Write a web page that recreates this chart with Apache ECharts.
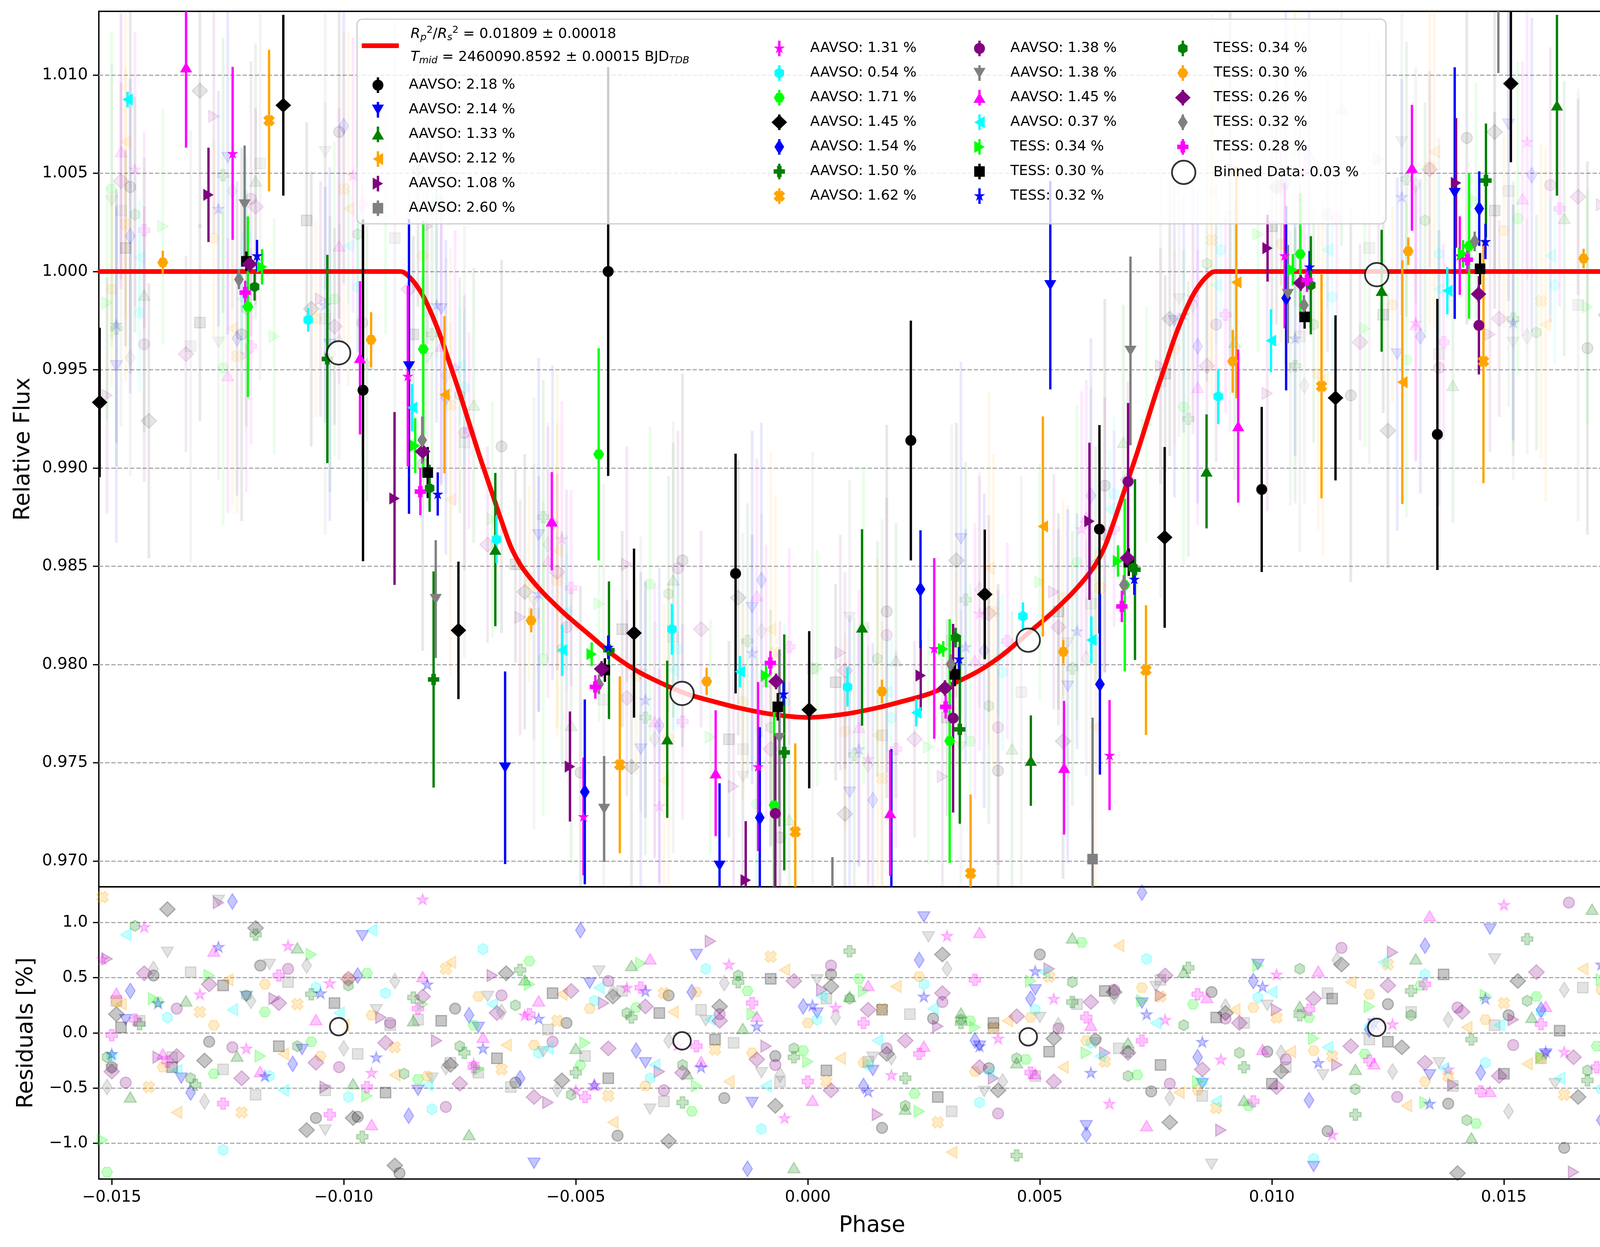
<!DOCTYPE html>
<html><head><meta charset="utf-8">
<script src="https://cdn.jsdelivr.net/npm/echarts@6/dist/echarts.min.js"></script>
<style>html,body{margin:0;padding:0;background:#fff}#c{width:4242px;height:3192px}</style>
</head><body><div id="c"></div>
<script>
// ---------------- DATA ----------------
const seriesLabels = ['AAVSO: 2.18 %','AAVSO: 2.14 %','AAVSO: 1.33 %','AAVSO: 2.12 %','AAVSO: 1.08 %','AAVSO: 2.60 %',
  'AAVSO: 1.31 %','AAVSO: 0.54 %','AAVSO: 1.71 %','AAVSO: 1.45 %','AAVSO: 1.54 %','AAVSO: 1.50 %','AAVSO: 1.62 %',
  'AAVSO: 1.38 %','AAVSO: 1.38 %','AAVSO: 1.45 %','AAVSO: 0.37 %','TESS: 0.34 %','TESS: 0.30 %','TESS: 0.32 %',
  'TESS: 0.34 %','TESS: 0.30 %','TESS: 0.26 %','TESS: 0.32 %','TESS: 0.28 %'];
const binnedLabel = 'Binned Data: 0.03 %';
const seriesColors = ['black','blue','green','orange','purple','gray','magenta','cyan','lime'];
const seriesMarkers = ['o','v','^','<','>','s','*','h','H','D','d','P','X'];

const phaseTicks = [-0.015,-0.010,-0.005,0,0.005,0.010,0.015];
const fluxTicks = [0.970,0.975,0.980,0.985,0.990,0.995,1.000,1.005,1.010];
const residTicks = [-1.0,-0.5,0,0.5,1.0];
const phaseRange = [-0.015278, 0.018047];
const fluxRange = [0.96869, 1.01324];
const residRange = [-1.323, 1.323];

// transit model
const modelPhase = [-0.0153,-0.0088,-0.0087,-0.0085,-0.0083,-0.0081,-0.0079,-0.0077,-0.0075,-0.0073,-0.0071,-0.0069,-0.0068,-0.0066,-0.0064,-0.0062,-0.0060,-0.0058,-0.0056,-0.0052,-0.0047,-0.0042,-0.0037,-0.0032,-0.0026,-0.0020,-0.0015,-0.0008,0,
  0.0008,0.0015,0.0020,0.0026,0.0032,0.0037,0.0042,0.0047,0.0052,0.0056,0.0058,0.0060,0.0062,0.0064,0.0066,0.0068,0.0069,0.0071,0.0073,0.0075,0.0077,0.0079,0.0081,0.0083,0.0085,0.0087,0.0088,0.0181];
const modelFlux = [1.0,1.0,0.99995,0.9995,0.9988,0.9978,0.9966,0.9952,0.9938,0.9923,0.9908,0.9894,0.9887,0.9873,0.9860,0.9851,0.98445,0.9839,0.9834,0.9825,0.9815,0.9805,0.9797,0.9791,0.9785,0.9781,0.9778,0.97748,0.97731,
  0.97748,0.9778,0.9781,0.9785,0.9791,0.9797,0.9805,0.9815,0.9825,0.9834,0.9839,0.98445,0.9851,0.9860,0.9873,0.9887,0.9894,0.9908,0.9923,0.9938,0.9952,0.9966,0.9978,0.9988,0.9995,0.99995,1.0,1.0];

const binnedPoints = [[-0.01011,0.99586],[-0.00271,0.97853],[0.00475,0.98124],[0.01226,0.99984]];
const binnedResiduals = [[-0.01011,0.057],[-0.00271,-0.072],[0.00475,-0.035],[0.01226,0.05]];

// bold (per-dataset binned) points: [phase, flux, error]
const boldSets = [
 [[-0.009585,0.99396,0.0087],[-0.004302,1.0000,0.0104],[-0.001557,0.98463,0.0061],[0.00222,0.9914,0.0061],[0.006284,0.98689,0.0053],[0.009781,0.98891,0.0042],[0.013566,0.99171,0.0069]],
 [[-0.008594,0.99517,0.0075],[-0.006523,0.97475,0.0049],[-0.001902,0.96976,0.0042],[0.0018,0.9672,0.0085],[0.005225,0.99930,0.0053],[0.01394,1.00399,0.0064]],
 [[-0.006734,0.98585,0.0039],[-0.00303,0.97620,0.004],[0.001168,0.98189,0.005],[0.004806,0.97511,0.0023],[0.008592,0.98983,0.0029],[0.012366,0.99902,0.0031],[0.016143,1.00846,0.0046]],
 [[-0.00783,0.99373,0.004],[0.005065,0.98703,0.0056],[0.009234,0.99945,0.0059],[0.012811,0.99437,0.0062]],
 [[-0.012915,1.0039,0.0024],[-0.008906,0.98845,0.0044],[-0.005126,0.97481,0.0028],[-0.001338,0.96903,0.003],[0.002433,0.97944,0.0018],[0.006069,0.98729,0.004],[0.009907,1.00119,0.0017],[0.013969,1.00451,0.0033]],
 [[0.00053,0.9626,0.0076],[0.006136,0.9701,0.0072],[0.01488,1.0178,0.0077]],
 [[-0.012394,1.00601,0.0044],[-0.00862,0.99468,0.0046],[-0.004835,0.97227,0.003],[-0.001072,0.97481,0.0043],[0.002724,0.98082,0.0046],[0.006502,0.97539,0.0028],[0.010275,1.00081,0.0037],[0.014049,1.00081,0.002]],
 [[-0.010766,0.99754,0.0006],[-0.006709,0.98637,0.0012],[-0.002929,0.98180,0.0013],[0.000856,0.97886,0.001],[0.004635,0.98246,0.0007],[0.008844,0.99364,0.0014]],
 [[-0.012066,0.99821,0.0046],[-0.008286,0.99605,0.0065],[-0.004507,0.99070,0.0054],[-0.000727,0.97284,0.0052],[0.003057,0.97611,0.0062],[0.00683,0.98405,0.0044],[0.010613,1.00089,0.0031],[0.01425,1.0013,0.0037]],
 [[-0.01526,0.99334,0.0038],[-0.011303,1.00846,0.0046],[-0.007529,0.98174,0.0035],[-0.003745,0.98160,0.0043],[0.00003,0.97770,0.004],[0.003813,0.98357,0.0033],[0.00769,0.98647,0.0046],[0.011371,0.99357,0.0042],[0.01515,1.00956,0.0040]],
 [[-0.004806,0.97352,0.0047],[-0.001035,0.97221,0.0046],[0.002428,0.98383,0.003],[0.006294,0.97900,0.0046],[0.010307,0.99865,0.0047],[0.014468,1.0032,0.0019]],
 [[-0.010354,0.99555,0.0053],[-0.008064,0.97924,0.0055],[-0.004285,0.98073,0.0035],[-0.000508,0.97553,0.006],[0.003275,0.97670,0.0048],[0.00705,0.98483,0.0046],[0.014613,1.00463,0.0029]],
 [[-0.01161,1.00768,0.0036],[-0.004051,0.97490,0.0045],[-0.000271,0.97149,0.0045],[0.003508,0.96938,0.004],[0.007287,0.97972,0.0033],[0.011069,0.99416,0.0057],[0.014559,0.99543,0.0062]],
 [[-0.0007,0.97242,0.004],[0.003131,0.97727,0.0048],[0.006901,0.98931,0.004],[0.014461,0.99726,0.0025]],
 [[-0.012136,1.00341,0.003],[-0.008018,0.98333,0.003],[-0.004389,0.97265,0.0027],[-0.000614,0.97626,0.0045],[0.006953,0.99596,0.0048],[0.010345,0.99885,0.0025]],
 [[-0.013398,1.0104,0.0041],[-0.00965,0.99561,0.0039],[-0.005517,0.98729,0.0025],[-0.001986,0.97447,0.0032],[0.001774,0.97245,0.0032],[0.005522,0.97475,0.0034],[0.009274,0.99214,0.0039],[0.013018,1.00528,0.0032]],
 [[-0.014659,1.00875,0.0004],[-0.008527,0.99307,0.0012],[-0.005294,0.98073,0.0013],[-0.001465,0.97964,0.0008],[0.002337,0.97755,0.0007],[0.006111,0.98125,0.0012],[0.00998,0.99648,0.0016],[0.01378,0.99902,0.0012]],
 [[-0.01176,1.00024,0.0009],[-0.00846,0.99114,0.0014],[-0.004658,0.98053,0.0006],[-0.0009,0.97944,0.0006],[0.002918,0.98079,0.0004],[0.006684,0.98527,0.0008],[0.010452,1.00009,0.0008],[0.01412,1.0009,0.0007],[0.018022,0.99908,0.0006]],
 [[-0.012098,1.00052,0.0005],[-0.00819,0.98977,0.0013],[-0.004373,0.97972,0.0006],[-0.000648,0.97785,0.0007],[0.003169,0.97950,0.0006],[0.006917,0.98521,0.0007],[0.010705,0.99769,0.0006],[0.014486,1.00014,0.0008]],
 [[-0.011869,1.00081,0.0008],[-0.007975,0.98868,0.0011],[-0.004301,0.98088,0.0006],[-0.000524,0.97851,0.0006],[0.003258,0.98029,0.0006],[0.007035,0.98435,0.0008],[0.010812,1.00024,0.0008],[0.014602,1.00153,0.0009]],
 [[-0.011921,0.99922,0.0007],[-0.00815,0.98897,0.0012],[0.003185,0.98137,0.0005],[0.007008,0.98492,0.0006],[0.010839,0.9993,0.0025]],
 [[-0.0139,1.00046,0.0006],[-0.009411,0.99653,0.0014],[-0.005962,0.98224,0.0006],[-0.00218,0.97914,0.0007],[0.001597,0.97863,0.0006],[0.005505,0.98065,0.0006],[0.009156,0.99543,0.0016],[0.012938,1.00103,0.0007],[0.016717,1.00066,0.0005]],
 [[-0.01203,1.00038,0.0004],[-0.0083,0.99084,0.0005],[-0.004444,0.97978,0.0004],[-0.000684,0.97914,0.0004],[0.002955,0.97880,0.0004],[0.006886,0.98542,0.0004],[0.010623,0.99942,0.0004],[0.014453,0.99885,0.0004]],
 [[-0.012259,0.9996,0.0005],[-0.00831,0.99142,0.0012],[-0.0045,0.979,0.0005],[0.003078,0.98002,0.0005],[0.00681,0.98405,0.0005],[0.01069,0.99829,0.0005],[0.01437,1.00153,0.0005]],
 [[-0.012125,0.99893,0.0006],[-0.00835,0.9888,0.0012],[-0.004579,0.97886,0.0006],[-0.000808,0.98008,0.0006],[0.00297,0.97785,0.0006],[0.006767,0.98296,0.0008],[0.010758,0.99956,0.0006],[0.014211,1.0006,0.0006]]
];

// faint (unbinned) points in the upper panel: [phase, flux]; error per dataset in faintErr
const faintErr = [0.0095,0.009,0.007,0.009,0.006,0.011,0.007,0.004,0.008,0.007,0.008,0.007,0.008,0.007,0.007,0.007,0.003,0.006,0.005,0.006,0.006,0.005,0.005,0.006,0.005];
const faintSets = [
 [[-0.0146,1.0043],[-0.0122,0.9968],[-0.0101,1.0071],[-0.0083,0.9902],[-0.0066,0.9911],[-0.0049,0.9745],[-0.0027,0.9853],[-0.0006,0.9712],[0.0017,0.9827],[0.0041,0.9746],[0.0064,0.9891],[0.0091,1.0052],[0.0117,0.9937],[0.0142,1.0068],[0.0168,0.9961]],
 [[-0.0149,0.9952],[-0.0125,1.0058],[-0.0103,0.9963],[-0.0079,0.9981],[-0.0058,0.9866],[-0.0036,0.9757],[-0.0012,0.9829],[0.0009,0.9735],[0.0033,0.9864],[0.0056,0.9789],[0.0079,0.9975],[0.0103,1.0044],[0.0127,0.9958],[0.0151,1.0075],[0.0174,0.9989]],
 [[-0.0143,0.9988],[-0.0119,1.0046],[-0.0095,0.9953],[-0.0072,0.9932],[-0.0051,0.9769],[-0.0029,0.9843],[-0.0004,0.9721],[0.0019,0.9802],[0.0044,0.9757],[0.0068,0.9913],[0.0092,0.9964],[0.0115,1.0083],[0.0139,0.9942],[0.0163,1.0027]],
 [[-0.0147,1.0066],[-0.0124,0.9971],[-0.0099,1.0032],[-0.0077,0.9884],[-0.0054,0.9858],[-0.0031,0.9741],[-0.0008,0.9818],[0.0015,0.9764],[0.0039,0.9849],[0.0062,0.9768],[0.0087,1.0041],[0.0111,0.9945],[0.0135,1.0061],[0.0159,0.9973]],
 [[-0.0151,0.9937],[-0.0128,1.0079],[-0.0105,0.9986],[-0.0082,1.0023],[-0.0062,0.9824],[-0.0039,0.9851],[-0.0016,0.9738],[0.0007,0.9806],[0.0029,0.9743],[0.0053,0.9837],[0.0076,0.9952],[0.0099,0.9938],[0.0123,1.0057],[0.0147,0.9968],[0.0171,1.0034]],
 [[-0.0148,1.0031],[-0.0133,0.9962],[-0.0118,1.0055],[-0.0104,0.9976],[-0.0089,1.0017],[-0.0074,0.9913],[-0.0059,0.9826],[-0.0044,0.9782],[-0.0029,0.9814],[-0.0014,0.9757],[0.0001,0.9798],[0.0016,0.9764],[0.0031,0.9812],[0.0046,0.9786],[0.0061,0.9831],[0.0076,0.9944],[0.0091,1.0028],[0.0106,0.9967],[0.0121,1.0012],[0.0136,0.9958],[0.0151,1.0041],[0.0166,0.9983]],
 [[-0.0145,1.0052],[-0.0121,0.9958],[-0.0098,1.0049],[-0.0076,0.9951],[-0.0053,0.9864],[-0.0032,0.9728],[-0.0009,0.9791],[0.0013,0.9752],[0.0037,0.9826],[0.0059,0.9869],[0.0083,0.9987],[0.0106,1.0038],[0.0131,0.9974],[0.0155,1.0066],[0.0177,0.9969]],
 [[-0.0144,0.9979],[-0.0121,1.0018],[-0.0097,0.9992],[-0.0074,0.9941],[-0.0052,0.9826],[-0.0028,0.9808],[-0.0005,0.9781],[0.0018,0.9773],[0.0042,0.9796],[0.0066,0.9887],[0.0089,1.0011],[0.0113,0.9987],[0.0136,1.0009],[0.0161,0.9993]],
 [[-0.0150,1.0042],[-0.0126,0.9951],[-0.0102,0.9986],[-0.0080,1.0036],[-0.0057,0.9803],[-0.0034,0.9841],[-0.0011,0.9729],[0.0012,0.9819],[0.0035,0.9761],[0.0058,0.9852],[0.0081,0.9931],[0.0105,1.0062],[0.0129,0.9955],[0.0153,1.0027],[0.0176,0.9962]],
 [[-0.0142,0.9924],[-0.0131,1.0092],[-0.0107,0.9981],[-0.0084,1.0052],[-0.0061,0.9837],[-0.0038,0.9748],[-0.0015,0.9834],[0.0008,0.9724],[0.0032,0.9853],[0.0055,0.9761],[0.0078,0.9976],[0.0101,1.0043],[0.0125,0.9919],[0.0148,1.0071],[0.0172,0.9978]],
 [[-0.0146,1.0018],[-0.0123,0.9966],[-0.0100,1.0074],[-0.0078,0.9936],[-0.0055,0.9872],[-0.0032,0.9769],[-0.0010,0.9843],[0.0014,0.9731],[0.0038,0.9807],[0.0061,0.9886],[0.0084,0.9962],[0.0108,1.0058],[0.0132,0.9967],[0.0156,1.0049],[0.0179,1.0012]],
 [[-0.0149,0.9971],[-0.0126,1.0049],[-0.0103,0.9958],[-0.0081,0.9968],[-0.0057,0.9875],[-0.0035,0.9773],[-0.0013,0.9812],[0.0010,0.9754],[0.0034,0.9833],[0.0057,0.9798],[0.0082,0.9925],[0.0105,0.9952],[0.0129,1.0047],[0.0152,0.9976],[0.0176,1.0038]],
 [[-0.0147,1.0024],[-0.0123,0.9957],[-0.0100,1.0042],[-0.0077,0.9932],[-0.0054,0.9843],[-0.0030,0.9762],[-0.0007,0.9806],[0.0016,0.9742],[0.0040,0.9827],[0.0063,0.9839],[0.0087,1.0016],[0.0110,0.9948],[0.0134,1.0053],[0.0158,0.9985]],
 [[-0.0143,0.9963],[-0.0120,1.0037],[-0.0096,0.9974],[-0.0074,0.9918],[-0.0052,0.9819],[-0.0028,0.9849],[-0.0006,0.9752],[0.0017,0.9815],[0.0041,0.9768],[0.0064,0.9866],[0.0088,0.9973],[0.0112,1.0029],[0.0136,0.9951],[0.0160,1.0044]],
 [[-0.0150,1.0036],[-0.0127,0.9964],[-0.0104,1.0061],[-0.0082,0.9956],[-0.0059,0.9832],[-0.0036,0.9795],[-0.0014,0.9743],[0.0009,0.9824],[0.0033,0.9758],[0.0056,0.9811],[0.0080,0.9986],[0.0104,0.9951],[0.0128,1.0066],[0.0152,0.9964],[0.0175,1.0019]],
 [[-0.0148,1.0061],[-0.0125,0.9947],[-0.0101,1.0013],[-0.0079,0.9962],[-0.0056,0.9853],[-0.0033,0.9771],[-0.0011,0.9835],[0.0011,0.9768],[0.0036,0.9802],[0.0060,0.9875],[0.0084,0.9941],[0.0107,1.0052],[0.0131,0.9973],[0.0154,1.0037],[0.0178,0.9957]],
 [[-0.0144,1.0007],[-0.0122,0.9986],[-0.0099,1.0013],[-0.0075,0.9952],[-0.0052,0.9827],[-0.0029,0.9797],[-0.0006,0.9779],[0.0017,0.9786],[0.0041,0.9804],[0.0065,0.9879],[0.0088,0.9993],[0.0112,1.0011],[0.0136,0.9991],[0.0160,1.0008]],
 [[-0.0151,0.9984],[-0.0139,1.0023],[-0.0115,0.9967],[-0.0091,1.0028],[-0.0068,0.9874],[-0.0045,0.9831],[-0.0021,0.9763],[0.0002,0.9798],[0.0026,0.9758],[0.0050,0.9842],[0.0073,0.9922],[0.0097,1.0019],[0.0120,0.9971],[0.0144,1.0036],[0.0168,0.9982]],
 [[-0.0147,1.0012],[-0.0131,0.9974],[-0.0108,1.0026],[-0.0085,0.9968],[-0.0063,0.9851],[-0.0040,0.9818],[-0.0017,0.9762],[0.0006,0.9791],[0.0030,0.9773],[0.0054,0.9827],[0.0077,0.9948],[0.0100,1.0023],[0.0124,0.9978],[0.0148,1.0031],[0.0172,0.9987]],
 [[-0.0149,0.9973],[-0.0127,1.0032],[-0.0104,0.9983],[-0.0080,0.9983],[-0.0058,0.9836],[-0.0035,0.9782],[-0.0012,0.9806],[0.0011,0.9757],[0.0034,0.9809],[0.0058,0.9817],[0.0081,0.9978],[0.0105,0.9966],[0.0128,1.0038],[0.0152,0.9974],[0.0176,1.0021]],
 [[-0.0145,1.0029],[-0.0121,0.9981],[-0.0097,1.0019],[-0.0075,0.9937],[-0.0053,0.9808],[-0.0030,0.9836],[-0.0008,0.9768],[0.0015,0.9803],[0.0039,0.9779],[0.0062,0.9851],[0.0086,1.0004],[0.0109,0.9973],[0.0133,1.0026],[0.0157,0.9969]],
 [[-0.0150,0.9991],[-0.0128,1.0017],[-0.0106,0.9976],[-0.0083,1.0008],[-0.0060,0.9841],[-0.0037,0.9794],[-0.0014,0.9781],[0.0008,0.9766],[0.0032,0.9798],[0.0055,0.9834],[0.0079,0.9961],[0.0102,1.0014],[0.0126,0.9983],[0.0150,1.0021],[0.0174,0.9988]],
 [[-0.0148,1.0046],[-0.0134,0.9958],[-0.0119,1.0033],[-0.0102,0.9972],[-0.0086,0.9991],[-0.0069,0.9861],[-0.0054,0.9847],[-0.0039,0.9783],[-0.0023,0.9818],[-0.0008,0.9757],[0.0008,0.9797],[0.0023,0.9762],[0.0039,0.9826],[0.0054,0.9819],[0.0069,0.9894],[0.0086,0.9952],[0.0102,1.0043],[0.0119,0.9964],[0.0134,1.0052],[0.0149,0.9976],[0.0166,1.0038]],
 [[-0.0146,0.9956],[-0.0124,1.0041],[-0.0101,0.9964],[-0.0078,0.9947],[-0.0056,0.9861],[-0.0033,0.9762],[-0.0010,0.9817],[0.0013,0.9749],[0.0037,0.9838],[0.0060,0.9803],[0.0083,0.9983],[0.0107,0.9942],[0.0131,1.0044],[0.0155,0.9967],[0.0178,1.0016]],
 [[-0.0143,1.0021],[-0.0120,0.9962],[-0.0096,1.0034],[-0.0073,0.9919],[-0.0051,0.9839],[-0.0027,0.9771],[-0.0004,0.9809],[0.0019,0.9757],[0.0043,0.9812],[0.0066,0.9869],[0.0090,0.9978],[0.0114,1.0027],[0.0137,0.9964],[0.0162,1.0032]]
];

// residuals (lower panel): [phase, residual %]
const residualSets = [
 [[-0.0150,-0.31],[-0.0141,0.52],[-0.0129,-0.08],[-0.0118,0.61],[-0.0106,-0.77],[-0.0097,-0.76],[-0.0088,-1.27],[-0.0076,0.22],[-0.0063,-0.45],[-0.0052,0.09],[-0.0041,-0.93],[-0.0030,0.34],[-0.0018,-0.59],[-0.0007,-0.21],[0.0005,0.53],[0.0016,-0.86],[0.0027,0.13],[0.0039,-0.32],[0.0050,0.71],[0.0062,-0.06],[0.0074,-0.53],[0.0087,0.37],[0.0099,-0.17],[0.0112,-0.89],[0.0125,0.26],[0.0138,-0.64],[0.0151,0.16],[0.0163,-1.04],[0.0176,0.43]],
 [[-0.0147,0.12],[-0.0135,-0.41],[-0.0121,0.33],[-0.0109,-0.15],[-0.0096,0.88],[-0.0084,-0.52],[-0.0071,0.05],[-0.0059,-1.18],[-0.0047,0.45],[-0.0035,-0.27],[-0.0024,0.71],[-0.0012,-0.63],[0.0002,0.18],[0.0014,-0.34],[0.0025,1.05],[0.0037,-0.12],[0.0049,0.39],[0.0060,-0.84],[0.0072,0.27],[0.0085,-0.46],[0.0097,0.62],[0.0109,-1.21],[0.0122,0.08],[0.0134,-0.38],[0.0147,0.94],[0.0159,-0.19],[0.0172,0.31]],
 [[-0.0146,-0.58],[-0.0134,0.29],[-0.0123,-0.21],[-0.0110,0.77],[-0.0098,-0.46],[-0.0085,0.11],[-0.0073,-0.92],[-0.0061,0.48],[-0.0050,-0.14],[-0.0038,0.61],[-0.0026,-0.37],[-0.0014,0.04],[-0.0003,-1.22],[0.0009,0.33],[0.0021,-0.69],[0.0033,0.18],[0.0045,-0.27],[0.0057,0.86],[0.0069,-0.09],[0.0081,0.55],[0.0094,-0.61],[0.0106,0.24],[0.0118,-0.33],[0.0131,0.67],[0.0143,-0.95],[0.0156,0.14],[0.0169,1.12]],
 [[-0.0148,0.26],[-0.0136,-0.72],[-0.0125,0.48],[-0.0113,-0.19],[-0.0100,0.07],[-0.0089,-0.38],[-0.0077,0.64],[-0.0065,-0.11],[-0.0053,0.35],[-0.0042,-0.81],[-0.0029,0.19],[-0.0017,-0.44],[-0.0005,0.57],[0.0007,-0.23],[0.0019,0.42],[0.0031,-1.08],[0.0043,0.11],[0.0055,-0.31],[0.0067,0.79],[0.0080,-0.54],[0.0092,0.21],[0.0104,-0.17],[0.0117,0.46],[0.0129,-0.66],[0.0142,0.05],[0.0155,-0.28],[0.0167,0.58]],
 [[-0.0151,0.67],[-0.0140,-0.22],[-0.0127,1.18],[-0.0115,0.31],[-0.0104,-0.49],[-0.0092,0.14],[-0.0080,-0.07],[-0.0068,0.52],[-0.0056,-0.63],[-0.0044,0.27],[-0.0032,-0.35],[-0.0021,0.83],[-0.0009,-0.12],[0.0003,0.39],[0.0015,-0.74],[0.0028,0.06],[0.0040,-0.41],[0.0052,0.58],[0.0064,-0.18],[0.0076,0.34],[0.0089,-0.88],[0.0101,0.21],[0.0114,-0.29],[0.0126,0.73],[0.0139,-0.47],[0.0152,0.12],[0.0165,-1.26],[0.0178,0.36]],
 [[-0.0149,0.29],[-0.0144,0.11],[-0.0137,-0.22],[-0.0133,0.55],[-0.0126,-0.33],[-0.0119,-0.56],[-0.0112,0.46],[-0.0104,-0.52],[-0.0097,-0.19],[-0.0090,0.07],[-0.0084,0.12],[-0.0077,-0.27],[-0.0071,-0.36],[-0.0064,-0.49],[-0.0056,0.03],[-0.0048,-0.21],[-0.0040,0.38],[-0.0031,-0.62],[-0.0023,0.21],[-0.0016,-0.09],[-0.0006,-0.44],[0.0004,0.31],[0.0013,-0.26],[0.0022,0.17],[0.0031,-0.71],[0.0040,0.04],[0.0049,-0.39],[0.0058,0.26],[0.0067,-0.14],[0.0076,0.48],[0.0085,-0.57],[0.0094,0.09],[0.0103,-0.31],[0.0112,0.36],[0.0121,-0.06],[0.0130,0.19],[0.0139,-0.48],[0.0148,0.07],[0.0158,-0.23],[0.0167,0.41],[0.0176,-0.66]],
 [[-0.0152,0.67],[-0.0143,0.96],[-0.0131,0.35],[-0.0121,-0.14],[-0.0112,0.79],[-0.0103,0.45],[-0.0094,-0.36],[-0.0083,1.21],[-0.0072,-0.28],[-0.0061,0.16],[-0.0050,-0.52],[-0.0039,0.41],[-0.0028,-0.11],[-0.0017,0.62],[-0.0005,-0.77],[0.0006,0.23],[0.0018,-0.38],[0.0030,0.88],[0.0041,-0.05],[0.0053,0.31],[0.0065,-0.64],[0.0077,0.12],[0.0089,-0.24],[0.0101,0.53],[0.0113,-0.92],[0.0126,0.08],[0.0138,-0.33],[0.0150,1.16],[0.0163,-0.17],[0.0175,0.27]],
 [[-0.0150,-0.21],[-0.0138,0.14],[-0.0126,-1.06],[-0.0116,-0.39],[-0.0106,0.41],[-0.0099,-0.58],[-0.0091,0.36],[-0.0081,-0.69],[-0.0070,0.76],[-0.0058,-0.18],[-0.0046,0.29],[-0.0034,-0.41],[-0.0022,0.58],[-0.0010,-0.87],[0.0002,0.12],[0.0013,-0.29],[0.0025,0.44],[0.0037,-0.63],[0.0049,0.21],[0.0061,-0.09],[0.0073,0.67],[0.0085,-0.44],[0.0097,0.32],[0.0109,-1.14],[0.0121,0.05],[0.0133,0.53],[0.0146,-0.27],[0.0158,0.19],[0.0171,-0.51]],
 [[-0.0151,-1.26],[-0.0140,0.28],[-0.0128,-0.37],[-0.0117,0.19],[-0.0107,-0.08],[-0.0095,0.54],[-0.0084,-0.42],[-0.0072,0.07],[-0.0060,0.65],[-0.0049,-0.29],[-0.0037,0.23],[-0.0025,-0.71],[-0.0013,0.38],[-0.0001,-0.16],[0.0011,0.49],[0.0023,-0.55],[0.0035,0.11],[0.0047,-0.24],[0.0059,0.82],[0.0071,-0.38],[0.0083,0.26],[0.0095,-0.66],[0.0108,0.14],[0.0120,-0.19],[0.0132,0.43],[0.0144,-0.82],[0.0157,0.33],[0.0170,-0.12]],
 [[-0.0149,0.17],[-0.0138,1.12],[-0.0130,-0.25],[-0.0119,0.95],[-0.0108,-0.88],[-0.0098,-0.77],[-0.0089,-1.2],[-0.0077,-0.29],[-0.0065,0.54],[-0.0053,-0.43],[-0.0042,0.33],[-0.0030,-0.98],[-0.0019,0.24],[-0.0007,-0.66],[0.0005,0.42],[0.0017,-0.19],[0.0029,0.71],[0.0041,-0.52],[0.0053,-0.05],[0.0066,0.37],[0.0078,-0.81],[0.0090,0.18],[0.0102,-0.35],[0.0115,0.62],[0.0128,-0.13],[0.0140,-1.27],[0.0153,0.47],[0.0166,-0.58],[0.0178,0.09]],
 [[-0.0146,0.38],[-0.0133,-0.54],[-0.0124,1.19],[-0.0111,-0.28],[-0.0097,0.52],[-0.0086,-0.75],[-0.0073,0.16],[-0.0062,-0.41],[-0.0049,0.93],[-0.0037,-0.16],[-0.0025,0.37],[-0.0013,-1.23],[-0.0001,0.24],[0.0012,-0.48],[0.0024,0.66],[0.0036,-0.07],[0.0048,0.31],[0.0060,-0.92],[0.0072,1.27],[0.0084,-0.22],[0.0096,0.47],[0.0108,-0.61],[0.0121,0.03],[0.0133,0.79],[0.0145,-0.36],[0.0158,0.21],[0.0171,-0.79]],
 [[-0.0144,0.08],[-0.0132,-0.47],[-0.0119,0.89],[-0.0107,0.35],[-0.0096,-0.94],[-0.0085,0.32],[-0.0074,-0.18],[-0.0062,0.57],[-0.0050,-0.36],[-0.0038,0.14],[-0.0027,-0.63],[-0.0015,0.46],[-0.0003,-0.22],[0.0009,0.74],[0.0021,-0.41],[0.0033,0.09],[0.0045,-1.11],[0.0057,0.28],[0.0069,-0.17],[0.0082,0.59],[0.0094,-0.31],[0.0106,0.16],[0.0118,-0.74],[0.0130,0.38],[0.0143,-0.06],[0.0155,0.85],[0.0168,-0.43]],
 [[-0.0152,1.23],[-0.0142,-0.49],[-0.0131,0.19],[-0.0122,-0.72],[-0.0110,0.26],[-0.0099,0.49],[-0.0089,-0.13],[-0.0078,0.58],[-0.0066,-0.33],[-0.0054,0.11],[-0.0043,-0.57],[-0.0031,0.36],[-0.0020,-0.15],[-0.0008,0.69],[0.0004,-0.44],[0.0016,0.22],[0.0028,-0.81],[0.0040,0.05],[0.0052,0.51],[0.0064,-0.26],[0.0076,0.33],[0.0088,-0.68],[0.0101,0.14],[0.0113,-0.21],[0.0125,0.62],[0.0138,-0.39],[0.0150,0.27],[0.0163,-0.56],[0.0176,0.18]],
 [[-0.0147,-0.45],[-0.0136,0.22],[-0.0124,-0.13],[-0.0112,0.58],[-0.0101,-0.31],[-0.0090,0.09],[-0.0078,-0.67],[-0.0066,0.34],[-0.0055,-0.08],[-0.0043,0.47],[-0.0031,-0.52],[-0.0019,0.17],[-0.0007,-0.29],[0.0005,0.61],[0.0017,-0.14],[0.0029,0.28],[0.0041,-0.73],[0.0054,0.04],[0.0066,0.39],[0.0078,-0.46],[0.0090,0.13],[0.0103,-0.24],[0.0115,0.77],[0.0127,-0.58],[0.0140,0.23],[0.0152,-0.11],[0.0164,1.18],[0.0177,-0.34]],
 [[-0.0150,-0.33],[-0.0138,0.73],[-0.0127,1.2],[-0.0116,0.62],[-0.0104,-0.88],[-0.0093,0.21],[-0.0081,-0.41],[-0.0069,0.33],[-0.0057,-0.17],[-0.0045,0.56],[-0.0034,-0.69],[-0.0022,0.11],[-0.0010,-0.36],[0.0002,0.48],[0.0014,-0.22],[0.0026,0.87],[0.0038,-0.53],[0.0050,0.14],[0.0062,-0.09],[0.0075,0.42],[0.0087,-1.19],[0.0099,0.25],[0.0111,-0.38],[0.0123,0.06],[0.0136,-0.27],[0.0148,0.67],[0.0161,-0.46],[0.0174,0.18]],
 [[-0.0149,0.36],[-0.0139,-0.19],[-0.0128,0.74],[-0.0118,-0.35],[-0.0106,0.12],[-0.0094,-0.83],[-0.0083,0.51],[-0.0070,-0.04],[-0.0058,0.29],[-0.0046,-0.47],[-0.0034,0.67],[-0.0023,-0.26],[-0.0011,0.15],[0.0001,-0.61],[0.0013,0.43],[0.0025,-0.12],[0.0037,0.91],[0.0049,-0.37],[0.0061,0.07],[0.0073,-0.84],[0.0086,0.32],[0.0098,-0.15],[0.0110,0.56],[0.0122,-0.28],[0.0134,1.06],[0.0147,-0.53],[0.0159,0.24],[0.0172,-0.07]],
 [[-0.0147,0.89],[-0.0136,-0.34],[-0.0124,0.21],[-0.0113,-0.52],[-0.0101,0.18],[-0.0094,0.93],[-0.0082,-0.47],[-0.0068,0.26],[-0.0056,-0.14],[-0.0045,0.41],[-0.0033,-0.29],[-0.0021,0.12],[-0.0009,-0.48],[0.0003,0.33],[0.0015,-0.07],[0.0027,0.22],[0.0039,-0.36],[0.0051,0.55],[0.0063,-0.21],[0.0075,0.09],[0.0088,-0.62],[0.0100,0.37],[0.0112,-0.13],[0.0124,0.64],[0.0137,-0.32],[0.0149,0.07],[0.0162,-0.41],[0.0175,0.29]],
 [[-0.0152,-0.97],[-0.0141,0.31],[-0.0129,0.52],[-0.0118,-0.21],[-0.0107,0.71],[-0.0095,-0.57],[-0.0083,0.26],[-0.0071,-0.33],[-0.0060,0.44],[-0.0048,-0.09],[-0.0036,0.63],[-0.0024,-0.48],[-0.0012,0.17],[0.0000,-0.26],[0.0012,0.38],[0.0024,-0.71],[0.0036,0.05],[0.0048,0.47],[0.0060,-0.18],[0.0072,0.29],[0.0084,-0.44],[0.0097,0.61],[0.0109,-0.05],[0.0121,0.24],[0.0133,-0.63],[0.0146,0.34],[0.0158,-0.22],[0.0171,0.48]],
 [[-0.0148,0.05],[-0.0137,-0.31],[-0.0126,0.43],[-0.0114,-0.12],[-0.0102,0.27],[-0.0091,-0.54],[-0.0079,0.11],[-0.0067,-0.23],[-0.0055,0.36],[-0.0043,-0.41],[-0.0032,0.18],[-0.0020,-0.06],[-0.0008,0.49],[0.0004,-0.34],[0.0016,0.21],[0.0028,-0.58],[0.0040,0.09],[0.0052,-0.17],[0.0064,0.38],[0.0076,-0.29],[0.0088,0.14],[0.0100,-0.46],[0.0113,0.31],[0.0125,-0.08],[0.0137,0.53],[0.0150,-0.37],[0.0162,0.02],[0.0175,-0.62]],
 [[-0.0150,-0.19],[-0.0140,0.27],[-0.0127,0.78],[-0.0117,-0.39],[-0.0105,0.36],[-0.0093,-0.22],[-0.0082,0.44],[-0.0070,-0.14],[-0.0058,0.13],[-0.0046,-0.47],[-0.0035,0.38],[-0.0023,-0.31],[-0.0011,0.06],[0.0001,0.25],[0.0013,-0.53],[0.0025,0.33],[0.0037,-0.12],[0.0049,0.56],[0.0061,-0.36],[0.0073,0.17],[0.0085,-0.08],[0.0098,0.42],[0.0110,-0.27],[0.0122,0.09],[0.0134,-0.64],[0.0146,0.31],[0.0159,-0.17],[0.0171,0.62]],
 [[-0.0151,-0.22],[-0.0145,0.97],[-0.0133,-0.41],[-0.0121,0.34],[-0.0110,-0.12],[-0.0099,0.43],[-0.0087,-0.37],[-0.0075,-0.12],[-0.0063,0.25],[-0.0051,-0.56],[-0.0039,0.18],[-0.0027,-0.29],[-0.0015,0.52],[-0.0003,-0.14],[0.0009,0.31],[0.0021,-0.66],[0.0033,0.12],[0.0045,-0.23],[0.0057,0.46],[0.0069,-0.39],[0.0081,0.07],[0.0093,-0.18],[0.0106,0.58],[0.0118,-0.51],[0.0130,0.16],[0.0142,-0.79],[0.0155,0.29],[0.0168,-0.34]],
 [[-0.0149,0.28],[-0.0139,-0.31],[-0.0128,0.07],[-0.0117,0.44],[-0.0105,-0.21],[-0.0094,0.16],[-0.0082,-0.39],[-0.0071,0.33],[-0.0059,-0.11],[-0.0047,0.22],[-0.0035,-0.48],[-0.0024,0.37],[-0.0012,-0.18],[0.0000,0.09],[0.0012,-0.27],[0.0024,0.51],[0.0036,-0.35],[0.0048,0.14],[0.0060,-0.07],[0.0072,0.41],[0.0084,-0.52],[0.0096,0.23],[0.0109,-0.16],[0.0121,0.35],[0.0133,-0.44],[0.0146,0.12],[0.0158,-0.23],[0.0171,0.39]],
 [[-0.0150,-0.35],[-0.0143,0.54],[-0.0136,-0.21],[-0.0129,0.44],[-0.0122,-0.41],[-0.0114,0.27],[-0.0106,-0.27],[-0.0099,0.49],[-0.0091,-0.09],[-0.0083,0.33],[-0.0075,-0.46],[-0.0067,0.18],[-0.0059,-0.58],[-0.0051,0.38],[-0.0043,-0.14],[-0.0035,0.24],[-0.0027,-0.36],[-0.0019,0.11],[-0.0011,-0.24],[-0.0003,0.47],[0.0005,-0.52],[0.0013,0.21],[0.0021,-0.07],[0.0029,0.36],[0.0037,-0.31],[0.0045,0.15],[0.0053,-0.44],[0.0061,0.28],[0.0069,-0.18],[0.0077,0.52],[0.0085,-0.33],[0.0093,0.09],[0.0101,-0.49],[0.0109,0.31],[0.0117,-0.12],[0.0125,0.43],[0.0133,-0.27],[0.0141,0.19],[0.0149,-0.39],[0.0157,0.55],[0.0165,-0.22],[0.0173,0.34]],
 [[-0.0151,-0.49],[-0.0141,0.58],[-0.0130,-0.62],[-0.0120,0.29],[-0.0108,0.61],[-0.0100,-0.14],[-0.0089,0.47],[-0.0078,-0.31],[-0.0066,0.19],[-0.0054,-0.51],[-0.0042,0.37],[-0.0030,-0.07],[-0.0018,0.45],[-0.0006,-0.38],[0.0006,0.14],[0.0018,-0.22],[0.0030,0.58],[0.0042,-0.44],[0.0054,0.07],[0.0066,0.33],[0.0078,-0.59],[0.0090,0.24],[0.0102,-0.18],[0.0114,0.66],[0.0126,-0.35],[0.0138,0.12],[0.0151,-0.71],[0.0163,0.39],[0.0176,-0.09]],
 [[-0.0150,-0.02],[-0.0145,0.12],[-0.0138,-0.26],[-0.0126,-0.64],[-0.0114,0.52],[-0.0103,-0.74],[-0.0095,-0.49],[-0.0084,0.22],[-0.0072,-0.31],[-0.0060,0.17],[-0.0048,-0.58],[-0.0036,0.41],[-0.0024,-0.12],[-0.0012,0.27],[0.0000,-0.44],[0.0012,0.09],[0.0024,-0.19],[0.0036,0.48],[0.0048,-0.36],[0.0060,0.14],[0.0072,-0.07],[0.0084,0.35],[0.0096,-0.62],[0.0108,0.21],[0.0121,-0.25],[0.0133,0.44],[0.0145,-0.53],[0.0158,0.08],[0.0170,-0.31]]
];

const legendColumns = [[0,1,2,3,4,5],[6,7,8,9,10,11,12],[13,14,15,16,17,18,19],[20,21,22,23,24]];

// ---------------- STYLE ----------------
const FONT = 'DejaVu Sans';
const HEX = {black:'#000000',blue:'#0000ff',green:'#008000',orange:'#ffa500',purple:'#800080',gray:'#808080',magenta:'#ff00ff',cyan:'#00ffff',lime:'#00ff00'};
function rgba(name, a){ const h = HEX[name]; return 'rgba(' + parseInt(h.slice(1,3),16) + ',' + parseInt(h.slice(3,5),16) + ',' + parseInt(h.slice(5,7),16) + ',' + a + ')'; }
// marker outlines (clockwise), drawn in a local frame of pixels
const SHAPE = {
  'o': 'M-14,0A14,14,0,1,1,14,0A14,14,0,1,1,-14,0Z',
  'v': 'M0,13.3L-15.5,-13.3L15.5,-13.3Z',
  '^': 'M0,-13.3L15.5,13.3L-15.5,13.3Z',
  '<': 'M-13.3,0L13.3,-15.5L13.3,15.5Z',
  '>': 'M13.3,0L-13.3,15.5L-13.3,-15.5Z',
  's': 'M-13.5,-13.5L13.5,-13.5L13.5,13.5L-13.5,13.5Z',
  '*': 'M0,-15L3.37,-4.64L14.27,-4.64L5.45,1.77L8.82,12.14L0,5.73L-8.82,12.14L-5.45,1.77L-14.27,-4.64L-3.37,-4.64Z',
  'h': 'M0,-14L12.12,-7L12.12,7L0,14L-12.12,7L-12.12,-7Z',
  'H': 'M-14,0L-7,-12.12L7,-12.12L14,0L7,12.12L-7,12.12Z',
  'D': 'M0,-19L20,0L0,19L-20,0Z',
  'd': 'M0,-20L12.5,0L0,20L-12.5,0Z',
  'P': 'M-5.8,-14.5L5.8,-14.5L5.8,-5.8L14.5,-5.8L14.5,5.8L5.8,5.8L5.8,14.5L-5.8,14.5L-5.8,5.8L-14.5,5.8L-14.5,-5.8L-5.8,-5.8Z',
  'X': 'M6.36,-14.85L14.85,-6.36L8.49,0L14.85,6.36L6.36,14.85L0,8.49L-6.36,14.85L-14.85,6.36L-8.49,0L-14.85,-6.36L-6.36,-14.85L0,-8.49Z'
};
const SHAPE_SIZE = {'o':28,'v':[31,26.6],'^':[31,26.6],'<':[26.6,31],'>':[26.6,31],'s':27,'*':[28.5,27.1],'h':[24.2,28],'H':[28,24.2],'D':[40,38],'d':[25,40],'P':29,'X':29.7};
const ERR_BAR = 'M-3,-20L3,-20L3,20L-3,20Z';
function colorOf(s){ return seriesColors[s % seriesColors.length]; }
function mk(s){ return seriesMarkers[s % seriesMarkers.length]; }
function symbolOf(s){ const m = mk(s); return m === 'o' ? 'circle' : (m === 's' ? 'rect' : 'path://' + SHAPE[m]); }
function sizeOf(s){ return SHAPE_SIZE[mk(s)]; }
function legendIconOf(s){ return 'path://' + SHAPE[mk(s)] + ERR_BAR; }
function minusFmt(v, d){ return (v < -1e-12 ? '\u2212' : '') + Math.abs(v).toFixed(d); }

function barRenderer(alpha, width){
  return function(params, api){
    const s = api.value(0), x = api.value(1), y = api.value(2), e = api.value(3);
    const cs = params.coordSys;
    const p1 = api.coord([x, y + e]);
    const p2 = api.coord([x, y - e]);
    if (p1[0] < cs.x || p1[0] > cs.x + cs.width) return null;
    const top = Math.max(p1[1], cs.y), bot = Math.min(p2[1], cs.y + cs.height);
    if (bot <= top) return null;
    return {type:'line', shape:{x1:p1[0], y1:top, x2:p1[0], y2:bot},
            style:{stroke: rgba(colorOf(s), alpha), lineWidth: width}};
  };
}

const series = [];
// faint error bars (upper panel)
const faintBarData = [];
faintSets.forEach((set, s) => set.forEach(p => faintBarData.push([s, p[0], p[1], faintErr[s]])));
series.push({type:'custom', name:'faintBars', xAxisIndex:0, yAxisIndex:0, z:1, silent:true,
  renderItem: barRenderer(0.09, 7), encode:{x:1, y:2}, data: faintBarData});
// faint markers
faintSets.forEach((set, s) => {
  const c = colorOf(s);
  series.push({type:'scatter', name:'f'+s, xAxisIndex:0, yAxisIndex:0, z:1, silent:true, clip:true,
    symbol:symbolOf(s), symbolSize:sizeOf(s), symbolKeepAspect:false,
    itemStyle:{color:rgba(c,0.12), borderColor:rgba(c,0.14), borderWidth:2.5},
    data: set.map(p => [p[0], p[1]])});
});
// model
series.push({type:'line', name:'model', xAxisIndex:0, yAxisIndex:0, z:2, silent:true, showSymbol:false, symbol:'none',
  smooth:0.3, color:'#ff0000', lineStyle:{color:'#ff0000', width:12}, data: modelPhase.map((p,i) => [p, modelFlux[i]])});
// bold error bars
const boldBarData = [];
boldSets.forEach((set, s) => set.forEach(p => boldBarData.push([s, p[0], p[1], p[2]])));
series.push({type:'custom', name:'boldBars', xAxisIndex:0, yAxisIndex:0, z:3, silent:true,
  renderItem: barRenderer(1, 6), encode:{x:1, y:2}, data: boldBarData});
// bold markers
boldSets.forEach((set, s) => {
  const c = colorOf(s);
  series.push({type:'scatter', name:'s'+s, xAxisIndex:0, yAxisIndex:0, z:3, clip:true,
    symbol:symbolOf(s), symbolSize:sizeOf(s), symbolKeepAspect:false,
    itemStyle:{color:HEX[c], borderWidth:0, opacity:1},
    data: set.map(p => [p[0], p[1]])});
});
// binned data (upper)
series.push({type:'scatter', name:'binned', xAxisIndex:0, yAxisIndex:0, z:4, clip:true,
  symbol:'circle', symbolSize:60, itemStyle:{color:'#ffffff', borderColor:'#000000', borderWidth:4.5},
  data: binnedPoints});
// residual markers
residualSets.forEach((set, s) => {
  const c = colorOf(s);
  series.push({type:'scatter', name:'r'+s, xAxisIndex:1, yAxisIndex:1, z:1, silent:true, clip:true,
    symbol:symbolOf(s), symbolSize:sizeOf(s), symbolKeepAspect:false,
    itemStyle:{color:rgba(c,0.28), borderColor:rgba(c,0.3), borderWidth:3},
    data: set.map(p => [p[0], p[1]])});
});
series.push({type:'scatter', name:'binnedRes', xAxisIndex:1, yAxisIndex:1, z:4, clip:true,
  symbol:'circle', symbolSize:45, itemStyle:{color:'#ffffff', borderColor:'#000000', borderWidth:4.5},
  data: binnedResiduals});

// ---------------- LEGENDS ----------------
const legendTextBase = {fontFamily:FONT, fontSize:36, color:'#000', lineHeight:36, padding:[0,0,0,54]};
const colLeft = [952, 1975, 2492, 3008];
const colTop = [198, 104, 104, 104];
const legends = [];
legendColumns.forEach((col, k) => {
  legends.push({orient:'vertical', left:colLeft[k], top:colTop[k], padding:0, itemWidth:40, itemHeight:40, itemGap:23,
    selectedMode:false, z:6, symbolKeepAspect:true, itemStyle:{borderWidth:0},
    data: col.map(s => ({name:'s'+s, icon: legendIconOf(s)})),
    formatter: name => seriesLabels[+name.slice(1)], textStyle: legendTextBase});
});
legends.push({orient:'vertical', left:2998, top:409, padding:0, itemWidth:60, itemHeight:60, selectedMode:false, z:6,
  itemStyle:{color:'#ffffff', borderColor:'#000000', borderWidth:4.5},
  data:[{name:'binned', icon:'circle'}], formatter: () => binnedLabel,
  textStyle: Object.assign({}, legendTextBase, {padding:[0,0,0,41]})});
legends.push({orient:'vertical', left:926, top:65, padding:0, itemWidth:95, itemHeight:12, selectedMode:false, z:6,
  itemStyle:{borderWidth:0}, data:[{name:'model', icon:'rect'}],
  formatter: () => '{it|R}{sub|p}{sup|2}{n|/}{it|R}{sub|s}{sup|2}{n| = 0.01809 \u00b1 0.00018}\n{it|T}{sub|mid}{n| = 2460090.8592 \u00b1 0.00015 BJD}{sub|TDB}',
  textStyle:{fontFamily:FONT, fontSize:36, color:'#000', padding:[0,0,0,25],
    rich:{
      n:{fontFamily:FONT, fontSize:36, lineHeight:59, color:'#000'},
      it:{fontFamily:FONT, fontSize:36, lineHeight:59, fontStyle:'italic', color:'#000'},
      sub:{fontFamily:FONT, fontSize:25, fontStyle:'italic', padding:[18,0,0,0], color:'#000'},
      sup:{fontFamily:FONT, fontSize:25, padding:[0,0,20,0], color:'#000'}
    }}});

// ---------------- CHART ----------------
const axisNameStyle = {fontFamily:FONT, fontSize:57, color:'#000'};
const tickLabelStyle = {fontFamily:FONT, fontSize:41, color:'#000'};
const splitStyle = {show:true, lineStyle:{type:[11,5], color:'#aaaaaa', width:3.2}};
const tickStyle = (vals) => ({show:true, inside:false, length:15, lineStyle:{color:'#000', width:3.2}, customValues:vals});
const option = {
  animation:false,
  backgroundColor:'#ffffff',
  textStyle:{fontFamily:FONT},
  grid:[
    {left:253, top:29, width:3959, height:2241, show:true, borderColor:'#000', borderWidth:3.5, backgroundColor:'transparent'},
    {left:253, top:2270, width:3959, height:748, show:true, borderColor:'#000', borderWidth:3.5, backgroundColor:'transparent'}
  ],
  xAxis:[
    {gridIndex:0, type:'value', position:'bottom', min:phaseRange[0], max:phaseRange[1], minInterval:0.005, maxInterval:0.005,
      axisLine:{show:false, onZero:false}, axisTick:{show:false}, axisLabel:{show:false}, splitLine:{show:false}},
    {gridIndex:1, type:'value', position:'bottom', min:phaseRange[0], max:phaseRange[1], minInterval:0.005, maxInterval:0.005,
      axisLine:{show:false, onZero:false}, splitLine:{show:false}, axisTick:tickStyle(phaseTicks),
      axisLabel:Object.assign({margin:27, customValues:phaseTicks, formatter: v => minusFmt(v,3)}, tickLabelStyle),
      name:'Phase', nameLocation:'middle', nameGap:92, nameTextStyle:axisNameStyle}
  ],
  yAxis:[
    {gridIndex:0, type:'value', position:'left', min:fluxRange[0], max:fluxRange[1], minInterval:0.005, maxInterval:0.005,
      axisLine:{show:false, onZero:false}, splitLine:splitStyle, axisTick:tickStyle(fluxTicks),
      axisLabel:Object.assign({margin:28, customValues:fluxTicks, formatter: v => v.toFixed(3)}, tickLabelStyle),
      name:'Relative Flux', nameLocation:'middle', nameRotate:90, nameGap:164, nameTextStyle:axisNameStyle},
    {gridIndex:1, type:'value', position:'left', min:residRange[0], max:residRange[1], minInterval:0.5, maxInterval:0.5,
      axisLine:{show:false, onZero:false}, splitLine:splitStyle, axisTick:tickStyle(residTicks),
      axisLabel:Object.assign({margin:28, customValues:residTicks, formatter: v => minusFmt(v,1)}, tickLabelStyle),
      name:'Residuals [%]', nameLocation:'middle', nameRotate:90, nameGap:156, nameTextStyle:axisNameStyle}
  ],
  legend: legends,
  graphic:[{type:'rect', z:5, silent:true, shape:{x:914, y:49, width:2634, height:524, r:14},
    style:{fill:'rgba(255,255,255,0.8)', stroke:'#cccccc', lineWidth:3}}],
  series: series
};
const chart = echarts.init(document.getElementById('c'), null, {renderer:'canvas', width:4242, height:3192});
chart.setOption(option);
</script>
</body></html>
